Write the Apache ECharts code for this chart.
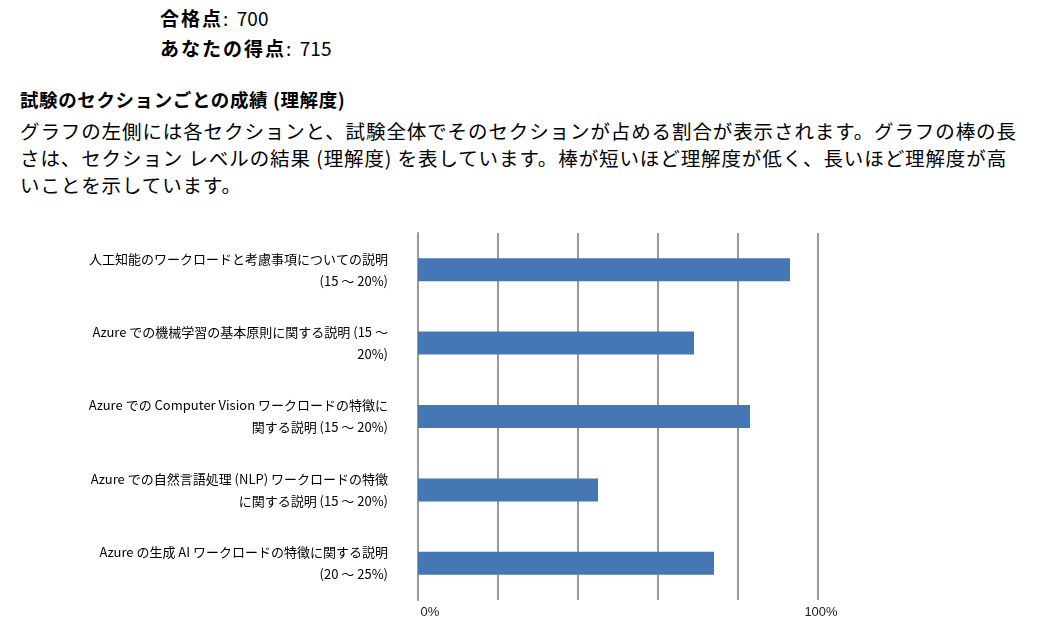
<!DOCTYPE html>
<html><head><meta charset="utf-8">
<style>
body{margin:0;width:1038px;height:636px;overflow:hidden;background:#fff;font-family:"Noto Sans CJK JP",sans-serif;color:#000}
.t{position:absolute;white-space:nowrap}
#chart{position:absolute;left:0;top:0;width:1038px;height:636px}
</style></head>
<body>
<div class="t" style="left:160px;top:6px;font-size:19px;line-height:24px"><b style="letter-spacing:2px">合格点</b>:&nbsp;&nbsp;700</div>
<div class="t" style="left:160px;top:36px;font-size:19px;line-height:24px"><b style="letter-spacing:2px">あなたの得点</b>:&nbsp;&nbsp;715</div>
<div class="t" style="left:20px;top:87px;font-size:18.5px;font-weight:bold;line-height:24px;letter-spacing:0.6px">試験のセクションごとの成績 (理解度)</div>
<div class="t" style="left:20px;top:117px;font-size:19.5px;line-height:27px;letter-spacing:0.9px">グラフの左側には各セクションと、試験全体でそのセクションが占める割合が表示されます。グラフの棒の長<br>さは、セクション レベルの結果 (理解度) を表しています。棒が短いほど理解度が低く、長いほど理解度が高<br>いことを示しています。</div>
<div id="chart"></div>
<script src="https://cdn.jsdelivr.net/npm/echarts@6/dist/echarts.min.js"></script>
<script>
var sections = [
  '人工知能のワークロードと考慮事項についての説明\n(15 ～ 20%)',
  'Azure での機械学習の基本原則に関する説明 (15 ～\n20%)',
  'Azure での Computer Vision ワークロードの特徴に\n関する説明 (15 ～ 20%)',
  'Azure での自然言語処理 (NLP) ワークロードの特徴\nに関する説明 (15 ～ 20%)',
  'Azure の生成 AI ワークロードの特徴に関する説明\n(20 ～ 25%)'
];
var scores = [93, 69, 83, 45, 74];

var chart = echarts.init(document.getElementById('chart'));
chart.setOption({
  animation: false,
  grid: {left: 418, right: 220, top: 233, bottom: 36},
  xAxis: {
    type: 'value', min: 0, max: 100, interval: 20,
    axisLine: {show: false}, axisTick: {show: false},
    splitLine: {lineStyle: {color: '#999', width: 2}},
    axisLabel: {
      color: '#222', fontSize: 13, margin: 6, align: 'center',
      formatter: function (v) {
        if (v === 0) return '{z|0%}';
        if (v === 100) return '{h|100%}';
        return '';
      },
      rich: {
        z: {fontSize: 13, color: '#222', padding: [0, 0, 0, 24]},
        h: {fontSize: 13, color: '#222', padding: [0, 0, 0, 6]}
      },
      showMinLabel: true, showMaxLabel: true
    }
  },
  yAxis: {
    type: 'category', inverse: true, data: sections,
    axisLine: {lineStyle: {color: '#999', width: 2}},
    axisTick: {length: 6, lineStyle: {color: '#999', width: 2}},
    axisLabel: {color: '#000', fontSize: 13, lineHeight: 22, margin: 30, align: 'right',
      fontFamily: 'Noto Sans CJK JP'}
  },
  series: [{
    type: 'bar', data: scores, barWidth: 23,
    itemStyle: {color: '#4677b5'}
  }]
});
</script>
</body></html>
